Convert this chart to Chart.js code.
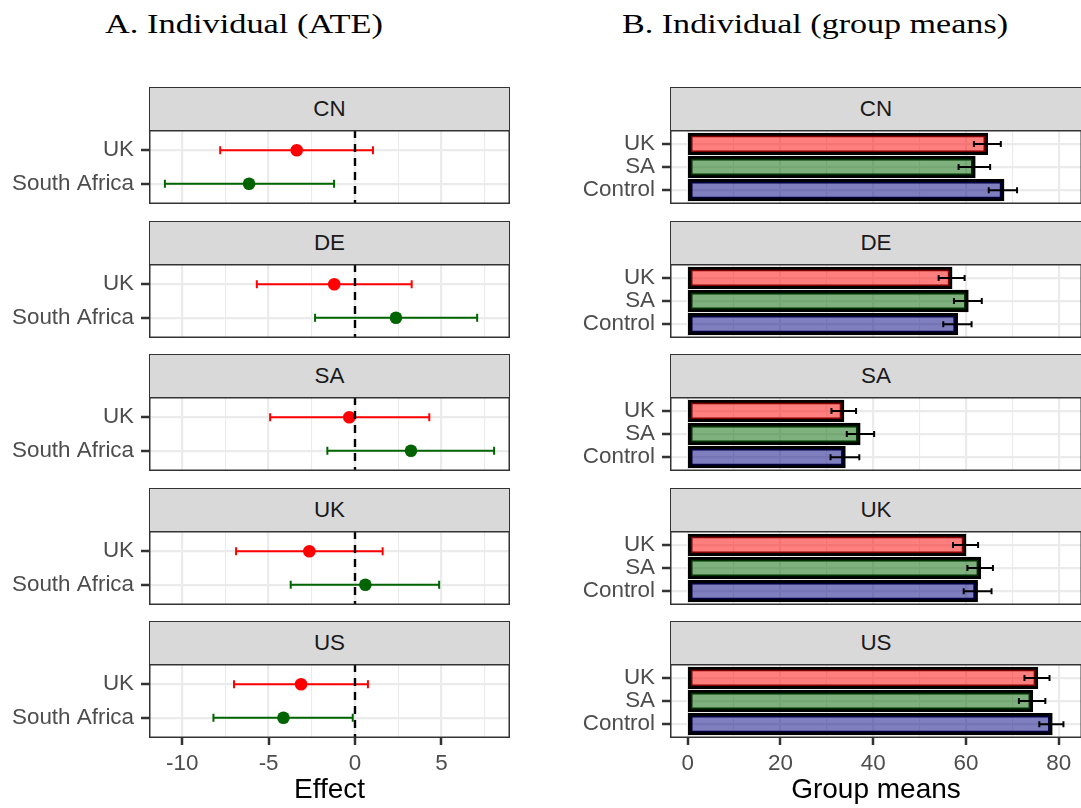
<!DOCTYPE html>
<html><head><meta charset="utf-8">
<script src="https://cdn.jsdelivr.net/npm/chart.js@4.4.1/dist/chart.umd.min.js"></script>
<style>
html,body{margin:0;padding:0;background:#fff;width:1081px;height:808px;overflow:hidden;position:relative}
.title{position:absolute;top:10px;font-family:"Liberation Serif","DejaVu Serif",serif;font-size:28px;line-height:28px;color:#000;white-space:nowrap;transform-origin:0 0}
.strip{position:absolute;box-sizing:border-box;background:#D9D9D9;border:1.5px solid #333;display:flex;align-items:center;justify-content:center;font-family:"Liberation Sans",Arial,sans-serif;font-size:22.4px;color:#1A1A1A}
canvas{position:absolute}
</style></head><body>
<div class="title" id="tA" data-w="278" style="left:105px">A. Individual (ATE)</div>
<div class="title" id="tB" data-w="386" style="left:622px">B. Individual (group means)</div>
<script>
// ---------- data ----------
const countries = ['CN', 'DE', 'SA', 'UK', 'US'];

// Panel A: average treatment effects (rows: UK, South Africa)
const ateGroups = ['UK', 'South Africa'];
const ukEffect = [-3.37, -1.20, -0.33, -2.64, -3.12];
const ukLower  = [-7.80, -5.68, -4.91, -6.88, -7.00];
const ukUpper  = [ 1.04,  3.28,  4.30,  1.60,  0.75];
const saEffect = [-6.13,  2.37,  3.24,  0.60, -4.14];
const saLower  = [-11.00, -2.31, -1.60, -3.72, -8.19];
const saUpper  = [-1.21,  7.07,  8.05,  4.87, -0.13];
const ateTicks = [-10, -7.5, -5, -2.5, 0, 2.5, 5, 7.5];

// Panel B: group means (rows: UK, SA, Control)
const meanGroups = ['UK', 'SA', 'Control'];
const meanUK      = [64.6, 56.9, 33.6, 59.9, 75.4];
const meanUKLo    = [61.7, 54.1, 31.0, 57.2, 72.6];
const meanUKHi    = [67.5, 59.7, 36.3, 62.6, 78.0];
const meanSA      = [61.9, 60.4, 37.1, 63.1, 74.3];
const meanSALo    = [58.4, 57.4, 34.3, 60.3, 71.4];
const meanSAHi    = [65.2, 63.4, 40.2, 65.8, 77.1];
const meanCtrl    = [68.1, 58.1, 33.9, 62.4, 78.5];
const meanCtrlLo  = [64.9, 55.1, 30.8, 59.5, 75.8];
const meanCtrlHi  = [71.0, 61.2, 37.0, 65.5, 81.0];
const meanTicks = [0, 10, 20, 30, 40, 50, 60, 70, 80];

// ---------- styles ----------
const ateColors = ['#FF0000', '#006400'];
const barFills = ['rgba(255,0,0,0.5)', 'rgba(0,100,0,0.5)', 'rgba(0,0,128,0.5)'];
const FONT = '"Liberation Sans", Arial, sans-serif';
Chart.defaults.font.family = FONT;

const stripTops = [87, 221, 354, 488, 621];
const STRIP_H = 43, PANEL_H = 74, BOTTOM_EXTRA = 70;
const TICK_LEN = 8;

// fit titles
['tA','tB'].forEach(id => {
  const el = document.getElementById(id);
  const w = el.getBoundingClientRect().width;
  el.style.transform = 'scaleX(' + (parseFloat(el.dataset.w) / w) + ')';
});

function drawInterval(ctx, xs, ys, iv, color, cap) {
  const x1 = xs.getPixelForValue(iv.lo), x2 = xs.getPixelForValue(iv.hi), y = ys.getPixelForValue(iv.y);
  ctx.strokeStyle = color; ctx.lineWidth = 2;
  ctx.beginPath();
  ctx.moveTo(x1, y); ctx.lineTo(x2, y);
  ctx.moveTo(x1, y - cap); ctx.lineTo(x1, y + cap);
  ctx.moveTo(x2, y - cap); ctx.lineTo(x2, y + cap);
  ctx.stroke();
}

// per-chart settings kept outside the option resolver
const panelInfo = new Map();

const deco = {
  id: 'deco',
  beforeDatasetsDraw(chart) {
    const info = panelInfo.get(chart.canvas);
    if (!info || !info.intervals) return;
    const ctx = chart.ctx;
    ctx.save();
    info.intervals.forEach(iv => drawInterval(ctx, chart.scales.x, chart.scales.y, iv, iv.color, info.cap));
    ctx.restore();
  },
  afterDatasetsDraw(chart) {
    const info = panelInfo.get(chart.canvas);
    if (!info) return;
    const ctx = chart.ctx, xs = chart.scales.x, a = chart.chartArea;
    ctx.save();
    if (info.barIntervals) info.barIntervals.forEach(iv => drawInterval(ctx, xs, chart.scales.y, iv, '#000', info.cap));
    if (info.zeroLine) {
      const x0 = xs.getPixelForValue(0);
      ctx.strokeStyle = '#000'; ctx.lineWidth = 2.4; ctx.setLineDash([8, 6]);
      ctx.beginPath(); ctx.moveTo(x0, a.top); ctx.lineTo(x0, a.bottom); ctx.stroke();
      ctx.setLineDash([]);
    }
    ctx.restore();
  },
  afterDraw(chart) {
    const info = panelInfo.get(chart.canvas);
    const ctx = chart.ctx, a = chart.chartArea, xs = chart.scales.x, ys = chart.scales.y;
    ctx.save();
    ctx.fillStyle = '#333';
    if (info) {
      for (let i = 1; i <= info.nCats; i++) {
        const y = Math.round(ys.getPixelForValue(i));
        ctx.fillRect(a.left - TICK_LEN, y - 1.25, TICK_LEN, 2.5);
      }
      if (info.bottom) {
        info.ticks.forEach(v => {
          if (v % info.majorStep !== 0) return;
          const x = Math.round(xs.getPixelForValue(v));
          ctx.fillRect(x - 1.25, a.bottom, 2.5, TICK_LEN - 1);
        });
      }
    }
    // panel border
    ctx.strokeStyle = '#333'; ctx.lineWidth = 1.5;
    ctx.strokeRect(a.left + 0.75, a.top + 0.75, a.right - a.left - 1.5, a.bottom - a.top - 1.5);
    ctx.restore();
  }
};

function addStrip(left, width, top, text) {
  const d = document.createElement('div');
  d.className = 'strip';
  d.style.left = left + 'px'; d.style.top = top + 'px';
  d.style.width = width + 'px'; d.style.height = (STRIP_H + 1) + 'px';
  d.textContent = text;
  document.body.appendChild(d);
}
function addCanvas(left, top, w, h) {
  const c = document.createElement('canvas');
  c.width = w; c.height = h;
  c.style.left = left + 'px'; c.style.top = top + 'px';
  c.style.width = w + 'px'; c.style.height = h + 'px';
  document.body.appendChild(c);
  return c;
}

function xAxis(min, max, tickList, majorStep, isBottom, title) {
  const isMajor = v => v % majorStep === 0;
  return {
    type: 'linear', min, max, offset: false,
    afterBuildTicks: s => { s.ticks = tickList.map(v => ({ value: v })); },
    afterFit: s => { s.height = isBottom ? BOTTOM_EXTRA : 0; s.paddingLeft = 0; s.paddingRight = 0; },
    border: { display: false },
    grid: {
      offset: false, drawTicks: false,
      color: '#EBEBEB',
      lineWidth: c => (c.tick && isMajor(c.tick.value)) ? 2.2 : 1.1
    },
    ticks: {
      display: isBottom, autoSkip: false, maxRotation: 0, padding: 12,
      color: '#4D4D4D', font: { size: 22.4, family: FONT },
      callback: v => isMajor(v) ? String(v) : ''
    },
    title: { display: isBottom, text: title, color: '#000', font: { size: 28, family: FONT }, padding: { top: 0, bottom: 1 } }
  };
}
function yAxis(labels, width) {
  return {
    type: 'linear', reverse: true, min: 0.4, max: labels.length + 0.6, offset: false,
    afterBuildTicks: s => { s.ticks = labels.map((l, i) => ({ value: i + 1 })); },
    afterFit: s => { s.width = width; s.paddingTop = 0; s.paddingBottom = 0; },
    border: { display: false },
    grid: { offset: false, drawTicks: false, color: '#EBEBEB', lineWidth: 2.2 },
    ticks: { autoSkip: false, padding: 15, color: '#4D4D4D', font: { size: 22.4, family: FONT },
      callback: v => labels[Math.round(v) - 1] }
  };
}

countries.forEach((cn, r) => {
  const isBottom = r === countries.length - 1;
  const top = stripTops[r] + STRIP_H;
  const h = PANEL_H + (isBottom ? BOTTOM_EXTRA : 0);

  // ---- Panel A ----
  addStrip(149, 361, stripTops[r], cn);
  const cA = addCanvas(0, top, 520, h);
  panelInfo.set(cA, {
    cap: 4, zeroLine: true, bottom: isBottom, majorStep: 5, ticks: ateTicks, nCats: ateGroups.length,
    intervals: [
      { lo: ukLower[r], hi: ukUpper[r], y: 1, color: ateColors[0] },
      { lo: saLower[r], hi: saUpper[r], y: 2, color: ateColors[1] } ]
  });
  new Chart(cA, {
    type: 'scatter',
    data: { datasets: [{
      data: [{ x: ukEffect[r], y: 1 }, { x: saEffect[r], y: 2 }],
      pointRadius: 6.3, pointHoverRadius: 6.3, pointBorderWidth: 0,
      pointBackgroundColor: ateColors, showLine: false, clip: false
    }] },
    options: {
      responsive: false, animation: false, events: [],
      layout: { autoPadding: false, padding: { left: 0, right: 10, top: 0, bottom: 0 } },
      plugins: { legend: { display: false }, tooltip: { enabled: false } },
      scales: {
        x: xAxis(-11.92, 8.97, ateTicks, 5, isBottom, 'Effect'),
        y: yAxis(ateGroups, 149)
      }
    },
    plugins: [deco]
  });

  // ---- Panel B ----
  addStrip(670, 412, stripTops[r], cn);
  const cB = addCanvas(560, top, 522, h);
  panelInfo.set(cB, {
    cap: 3, bottom: isBottom, majorStep: 20, ticks: meanTicks, nCats: meanGroups.length,
    barIntervals: [
      { lo: meanUKLo[r], hi: meanUKHi[r], y: 1 },
      { lo: meanSALo[r], hi: meanSAHi[r], y: 2 },
      { lo: meanCtrlLo[r], hi: meanCtrlHi[r], y: 3 } ]
  });
  new Chart(cB, {
    type: 'bar',
    data: { datasets: [{
      data: [{ x: meanUK[r], y: 1 }, { x: meanSA[r], y: 2 }, { x: meanCtrl[r], y: 3 }],
      backgroundColor: barFills, borderColor: '#000', borderWidth: 3, borderSkipped: false,
      barPercentage: 0.9, categoryPercentage: 1, inflateAmount: 0.8
    }] },
    options: {
      indexAxis: 'y',
      responsive: false, animation: false, events: [],
      layout: { autoPadding: false, padding: { left: 0, right: 0, top: 0, bottom: 0 } },
      plugins: { legend: { display: false }, tooltip: { enabled: false } },
      scales: {
        x: xAxis(-3.8, 85, meanTicks, 20, isBottom, 'Group means'),
        y: yAxis(meanGroups, 110)
      }
    },
    plugins: [deco]
  });
});
</script>
</body></html>
